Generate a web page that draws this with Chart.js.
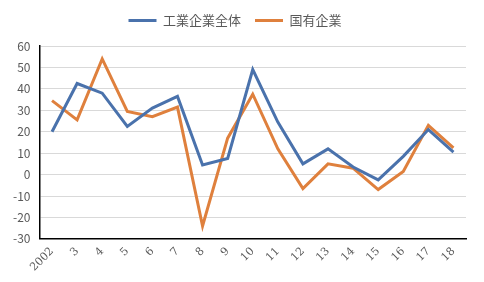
<!DOCTYPE html>
<html>
<head>
<meta charset="utf-8">
<script src="https://cdn.jsdelivr.net/npm/chart.js@4"></script>
<style>
  html, body { margin: 0; padding: 0; background: #fff; }
  #wrap { width: 484px; height: 282px; }
</style>
</head>
<body>
<div id="wrap"><canvas id="chart"></canvas></div>
<script>
// years on the x axis
const years = ['2002', '3', '4', '5', '6', '7', '8', '9', '10', '11', '12', '13', '14', '15', '16', '17', '18'];

// 工業企業全体
const allIndustry = [20, 42.5, 38, 22.5, 31, 36.5, 4.5, 7.5, 49, 24.5, 5, 12, 3.5, -2.5, 8.5, 21, 10.5];

// 国有企業
const stateOwned = [34.5, 25.5, 54, 29.5, 27, 31.5, -24, 17, 37.5, 12, -6.5, 5, 3, -7, 1.5, 23, 12.5];

const yTicks = { min: -30, max: 60, step: 10 };

const blue = '#4a72ac';
const orange = '#df803d';
const grey = '#595959';

// extra gap under the legend
const legendGap = {
  id: 'legendGap',
  beforeInit(chart) {
    const fit = chart.legend.fit;
    chart.legend.fit = function () {
      fit.bind(chart.legend)();
      this.height += 9;
    };
  }
};

new Chart(document.getElementById('chart'), {
  type: 'line',
  data: {
    labels: years,
    datasets: [
      {
        label: '工業企業全体',
        data: allIndustry,
        borderColor: blue,
        backgroundColor: blue,
        borderWidth: 3,
        pointRadius: 0,
        tension: 0
      },
      {
        label: '国有企業',
        data: stateOwned,
        borderColor: orange,
        backgroundColor: orange,
        borderWidth: 3,
        pointRadius: 0,
        tension: 0
      }
    ]
  },
  options: {
    responsive: true,
    maintainAspectRatio: false,
    animation: false,
    layout: { padding: { left: 4, right: 18, top: 0, bottom: 2 } },
    plugins: {
      tooltip: { enabled: false },
      legend: {
        position: 'top',
        labels: {
          boxWidth: 28,
          boxHeight: 3,
          padding: 14,
          color: grey,
          font: { family: 'Noto Sans CJK JP', size: 13 },
          generateLabels: chart =>
            Chart.defaults.plugins.legend.labels.generateLabels(chart).map(l => ({ ...l, lineWidth: 0 }))
        }
      }
    },
    scales: {
      x: {
        offset: true,
        grid: { display: false, drawTicks: false },
        border: { display: true, color: '#000', width: 1.5 },
        ticks: {
          color: grey,
          maxRotation: 45,
          minRotation: 45,
          padding: 6,
          font: { family: 'DejaVu Serif', size: 11 }
        }
      },
      y: {
        min: yTicks.min,
        max: yTicks.max,
        grid: { color: '#d9d9d9', drawTicks: false },
        border: { display: true, color: '#000', width: 1.5 },
        ticks: {
          stepSize: yTicks.step,
          color: grey,
          padding: 9,
          font: { family: 'Noto Sans CJK JP', size: 12 }
        }
      }
    }
  },
  plugins: [legendGap]
});
</script>
</body>
</html>
